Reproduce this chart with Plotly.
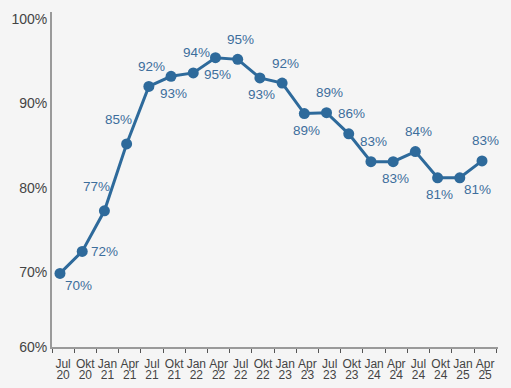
import plotly.graph_objects as go

categories = ["Jul 20", "Okt 20", "Jan 21", "Apr 21", "Jul 21", "Okt 21", "Jan 22", "Apr 22",
              "Jul 22", "Okt 22", "Jan 23", "Apr 23", "Jul 23", "Okt 23", "Jan 24", "Apr 24",
              "Jul 24", "Okt 24", "Jan 25", "Apr 25"]
values = [69.9, 72.5, 77.3, 85.2, 92.0, 93.2, 93.6, 95.4, 95.2, 93.0,
          92.4, 88.8, 88.9, 86.4, 83.1, 83.1, 84.3, 81.2, 81.2, 83.2]
labels = ["70%", "72%", "77%", "85%", "92%", "93%", "94%", "95%", "95%", "93%",
          "92%", "89%", "89%", "86%", "83%", "83%", "84%", "81%", "81%", "83%"]
label_place = ["br", "r", "al", "al", "a", "b", "a", "b", "a", "b",
               "a", "b", "a", "a", "a", "b", "a", "b", "br", "a"]
y_ticks = [61.2, 70, 80, 90, 100]
y_tick_text = ["60%", "70%", "80%", "90%", "100%"]

LINE = "#2e6a9b"
LABEL = "#3d6e9c"
AXIS = "#9a9a9a"
BG = "#f5f5f5"
TICKCOL = "#444444"

shifts = {"a": (3, 20), "b": (2, -17), "r": (22, 0), "br": (18, -12), "al": (-8, 24)}

xs = list(range(len(categories)))
months = [c.split(" ")[0] for c in categories]
years = [c.split(" ")[1] for c in categories]
XRANGE = [-0.36, 19.72]
label_vals = [i + 0.14 for i in xs]

fig = go.Figure()
fig.add_trace(go.Scatter(
    x=xs, y=values, mode="lines+markers",
    line=dict(color=LINE, width=3),
    marker=dict(color=LINE, size=11),
    hoverinfo="skip", showlegend=False,
))
# carrier for the second (year) label row
fig.add_trace(go.Scatter(x=xs, y=values, xaxis="x2", mode="none",
                         hoverinfo="skip", showlegend=False))

for x, v, t, p in zip(xs, values, labels, label_place):
    dx, dy = shifts[p]
    fig.add_annotation(x=x, y=v, text=t, showarrow=False, xshift=dx, yshift=dy,
                       font=dict(family="Liberation Sans, Arial, sans-serif", size=13.5, color=LABEL))

tickfont = dict(family="Liberation Sans Narrow, Liberation Sans, Arial", size=12, color=TICKCOL)

fig.update_layout(
    width=511, height=388,
    margin=dict(l=52, r=13, t=12, b=41),
    paper_bgcolor=BG, plot_bgcolor=BG,
    font=dict(family="Liberation Sans, Arial, sans-serif", size=13, color=TICKCOL),
    xaxis=dict(
        range=XRANGE,
        tickmode="array", tickvals=label_vals, ticktext=months,
        tickfont=tickfont, tickangle=0, ticks="",
        ticklabelstandoff=5,
        automargin=False,
        showgrid=False, zeroline=False,
        showline=True, linecolor=AXIS, linewidth=2,
        minor=dict(tickmode="array", tickvals=[i - 0.36 for i in range(len(categories) + 1)],
                   ticks="outside", ticklen=4, tickcolor="#555555", tickwidth=1, showgrid=False),
        fixedrange=True,
    ),
    xaxis2=dict(
        overlaying="x", anchor="y", side="bottom",
        range=XRANGE,
        tickmode="array", tickvals=label_vals, ticktext=years,
        tickfont=tickfont, tickangle=0, ticks="",
        ticklabelstandoff=19,
        automargin=False,
        showgrid=False, zeroline=False, showline=False,
        fixedrange=True,
    ),
    yaxis=dict(
        range=[61.2, 100.8],
        tickmode="array", tickvals=y_ticks, ticktext=y_tick_text,
        tickfont=dict(size=14, color=TICKCOL),
        ticks="", showgrid=False, zeroline=False,
        automargin=False,
        showline=True, linecolor=AXIS, linewidth=2,
        fixedrange=True,
    ),
)

fig.write_html(
    "out.html",
    config={"displayModeBar": False},
    post_script="document.body.style.margin='0';document.body.style.background='#f5f5f5';",
)
